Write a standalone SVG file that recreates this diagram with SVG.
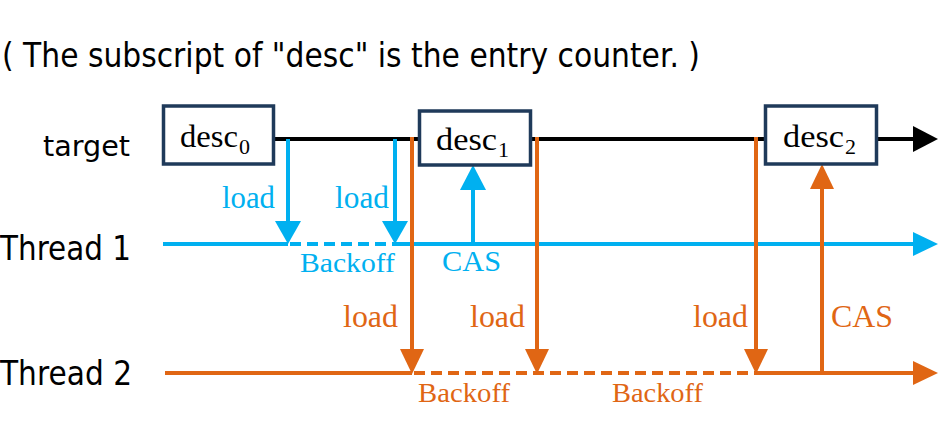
<svg xmlns="http://www.w3.org/2000/svg" width="950" height="437" viewBox="0 0 950 437">
  <style>
    .sans { font-family: "DejaVu Sans", "Liberation Sans", sans-serif; fill: #000; }
    .serif { font-family: "Liberation Serif", "DejaVu Serif", serif; }
    .box { fill: #fff; stroke: #1f3a5a; stroke-width: 3.5; }
    .blue { stroke: #00b0f0; stroke-width: 4; fill: none; }
    .orange { stroke: #e06614; stroke-width: 4; fill: none; }
    .black { stroke: #000; stroke-width: 4; fill: none; }
    .dash { stroke-dasharray: 11 6; }
    .tb { fill: #00b0f0; }
    .to { fill: #e06614; }
    .name { font-size: 32px; fill: #000; }
    .sub { font-size: 22px; fill: #000; }
  </style>

  <!-- caption -->
  <text class="sans" x="2" y="67" font-size="33" textLength="698" lengthAdjust="spacingAndGlyphs">( The subscript of "desc" is the entry counter. )</text>

  <!-- lane labels -->
  <g id="lane-target">
    <text class="sans" x="43" y="156" font-size="29" textLength="87" lengthAdjust="spacingAndGlyphs">target</text>
  </g>
  <g id="lane-thread1">
    <text class="sans" x="0" y="260" font-size="33" textLength="131" lengthAdjust="spacingAndGlyphs">Thread 1</text>
  </g>
  <g id="lane-thread2">
    <text class="sans" x="0" y="385" font-size="33" textLength="132" lengthAdjust="spacingAndGlyphs">Thread 2</text>
  </g>

  <!-- connectors: timelines, loads and CAS operations -->
  <g id="connectors">
    <!-- target timeline -->
    <line class="black" x1="270" y1="139" x2="916" y2="139"/>
    <polygon points="938,139 913,126 913,152" fill="#000"/>

    <!-- Thread 1 timeline -->
    <line class="blue" x1="163" y1="244" x2="288" y2="244"/>
    <line class="blue dash" x1="290" y1="244" x2="395" y2="244"/>
    <line class="blue" x1="395" y1="244" x2="916" y2="244"/>
    <polygon class="tb" points="938,244 913,232 913,256"/>

    <!-- Thread 2 timeline -->
    <line class="orange" x1="165" y1="373" x2="412" y2="373"/>
    <line class="orange dash" x1="414" y1="373" x2="756" y2="373"/>
    <line class="orange" x1="756" y1="373" x2="916" y2="373"/>
    <polygon class="to" points="938,373 913,361 913,385"/>

    <!-- Thread 1 loads -->
    <line class="blue" x1="288" y1="139" x2="288" y2="224"/>
    <polygon class="tb" points="288,244 275,221 301,221"/>
    <line class="blue" x1="395" y1="139" x2="395" y2="224"/>
    <polygon class="tb" points="395,244 382,221 408,221"/>
    <!-- Thread 1 CAS -->
    <line class="blue" x1="473" y1="244" x2="473" y2="186"/>
    <polygon class="tb" points="473,165 460,190 486,190"/>

    <!-- Thread 2 loads -->
    <line class="orange" x1="412" y1="137" x2="412" y2="353"/>
    <polygon class="to" points="412,374 400,349 424,349"/>
    <line class="orange" x1="537" y1="137" x2="537" y2="353"/>
    <polygon class="to" points="537,374 525,349 549,349"/>
    <line class="orange" x1="756" y1="137" x2="756" y2="353"/>
    <polygon class="to" points="756,374 744,349 768,349"/>
    <!-- Thread 2 CAS -->
    <line class="orange" x1="822" y1="373" x2="822" y2="185"/>
    <polygon class="to" points="822,164 810,189 834,189"/>

    <!-- labels -->
    <g class="serif tb">
      <text x="222" y="208" font-size="31" textLength="53" lengthAdjust="spacingAndGlyphs">load</text>
      <text x="335" y="208" font-size="31" textLength="54" lengthAdjust="spacingAndGlyphs">load</text>
      <text x="300" y="272" font-size="27" textLength="95" lengthAdjust="spacingAndGlyphs">Backoff</text>
      <text x="442" y="271" font-size="29" textLength="59" lengthAdjust="spacingAndGlyphs">CAS</text>
    </g>
    <g class="serif to">
      <text x="343" y="327" font-size="31" textLength="55" lengthAdjust="spacingAndGlyphs">load</text>
      <text x="470" y="327" font-size="31" textLength="55" lengthAdjust="spacingAndGlyphs">load</text>
      <text x="693" y="327" font-size="31" textLength="55" lengthAdjust="spacingAndGlyphs">load</text>
      <text x="831" y="327" font-size="31" textLength="62" lengthAdjust="spacingAndGlyphs">CAS</text>
      <text x="418" y="402" font-size="27" textLength="92" lengthAdjust="spacingAndGlyphs">Backoff</text>
      <text x="612" y="402" font-size="27" textLength="91" lengthAdjust="spacingAndGlyphs">Backoff</text>
    </g>
  </g>

  <!-- descriptor nodes on the target timeline -->
  <g id="desc0">
    <rect class="box" x="163.5" y="106" width="110" height="58"/>
    <text class="serif name" x="180" y="147" textLength="58" lengthAdjust="spacingAndGlyphs">desc</text>
    <text class="serif sub" x="239" y="154">0</text>
  </g>
  <g id="desc1">
    <rect class="box" x="419.5" y="111" width="111" height="54"/>
    <text class="serif name" x="436" y="150" textLength="61" lengthAdjust="spacingAndGlyphs">desc</text>
    <text class="serif sub" x="498" y="157">1</text>
  </g>
  <g id="desc2">
    <rect class="box" x="765.5" y="106" width="111" height="58"/>
    <text class="serif name" x="783" y="147" textLength="61" lengthAdjust="spacingAndGlyphs">desc</text>
    <text class="serif sub" x="845" y="154">2</text>
  </g>
</svg>
